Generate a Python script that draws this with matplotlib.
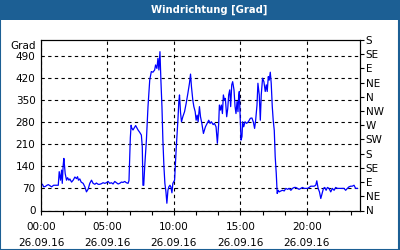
import numpy as np
import matplotlib
matplotlib.use("Agg")
import matplotlib.pyplot as plt
from matplotlib.patches import Rectangle

# Stunden seit 00:00 am 26.09.16 und Windrichtung in Grad
hours = [0.0, 0.12, 0.2, 0.32, 0.45, 0.55, 0.7, 0.8, 0.95, 1.05, 1.2, 1.3,
         1.37, 1.47, 1.55, 1.6, 1.67, 1.72, 1.77, 1.82, 1.92, 2.0, 2.1, 2.17,
         2.3, 2.42, 2.55, 2.67, 2.75, 2.82, 2.92, 3.02, 3.17, 3.3, 3.42, 3.55,
         3.67, 3.8, 3.92, 4.05, 4.17, 4.3, 4.42, 4.55, 4.67, 4.8, 4.92, 5.05,
         5.17, 5.3, 5.42, 5.55, 5.67, 5.8, 5.92, 6.05, 6.17, 6.3, 6.42, 6.55,
         6.62, 6.72, 6.78, 6.82, 6.92, 7.12, 7.3, 7.42, 7.55, 7.62, 7.67, 7.73,
         7.8, 7.93, 8.05, 8.18, 8.3, 8.42, 8.55, 8.62, 8.72, 8.8, 8.87, 8.95,
         9.02, 9.1, 9.17, 9.25, 9.32, 9.4, 9.47, 9.55, 9.62, 9.7, 9.77, 9.85,
         9.92, 10.05, 10.18, 10.3, 10.37, 10.42, 10.5, 10.57, 10.67, 10.8,
         10.92, 11.05, 11.17, 11.25, 11.32, 11.42, 11.5, 11.6, 11.67, 11.75,
         11.82, 11.92, 12.0, 12.1, 12.22, 12.37, 12.5, 12.62, 12.72, 12.82,
         12.95, 13.05, 13.17, 13.27, 13.37, 13.42, 13.5, 13.57, 13.65, 13.72,
         13.8, 13.87, 13.97, 14.05, 14.12, 14.2, 14.27, 14.35, 14.42, 14.52,
         14.6, 14.67, 14.75, 14.82, 14.87, 14.92, 14.97, 15.05, 15.12, 15.17,
         15.25, 15.35, 15.47, 15.6, 15.75, 15.87, 15.97, 16.07, 16.15, 16.25,
         16.32, 16.42, 16.5, 16.57, 16.67, 16.77, 16.87, 16.95, 17.02, 17.1,
         17.17, 17.25, 17.32, 17.4, 17.47, 17.55, 17.62, 17.7, 17.77, 17.85,
         17.92, 18.05, 18.17, 18.3, 18.42, 18.55, 18.67, 18.8, 18.92, 19.05,
         19.17, 19.3, 19.42, 19.55, 19.67, 19.8, 19.92, 20.05, 20.17, 20.3,
         20.42, 20.55, 20.67, 20.75, 20.85, 20.95, 21.05, 21.15, 21.25, 21.35,
         21.45, 21.55, 21.67, 21.8, 21.92, 22.05, 22.17, 22.3, 22.42, 22.55,
         22.67, 22.8, 22.92, 23.05, 23.17, 23.3, 23.42, 23.55, 23.67, 23.8]
grad = [86, 82, 75, 76, 80, 82, 78, 75, 80, 80, 80, 80,
        123, 96, 128, 86, 144, 165, 140, 117, 96, 104, 96, 100,
        90, 96, 106, 101, 107, 96, 100, 90, 86, 75, 59, 68,
        86, 96, 86, 83, 87, 83, 83, 85, 88, 86, 88, 92,
        86, 88, 84, 92, 88, 84, 86, 90, 89, 92, 88, 86,
        95, 230, 270, 262, 255, 269, 255, 248, 239, 202, 80, 80,
        138, 223, 329, 413, 440, 438, 445, 461, 450, 482, 445, 503,
        413, 329, 223, 138, 86, 59, 23, 64, 75, 80, 75, 56,
        86, 96, 202, 286, 345, 366, 309, 281, 297, 313,
        339, 371, 403, 432, 392, 350, 329, 313, 286, 302,
        281, 329, 297, 276, 244, 265, 276, 286, 276, 281,
        272, 276, 265, 213, 276, 334, 318, 334, 307, 366,
        350, 355, 297, 323, 366, 382, 329, 398, 408, 382,
        329, 307, 345, 313, 361, 377, 313, 223, 234, 281,
        265, 281, 276, 281, 292, 293, 281, 260, 286, 334,
        403, 366, 286, 366, 419, 408, 377, 398, 377, 424,
        413, 438, 403, 329, 286, 254, 170, 117, 54, 64,
        59, 62, 64, 62, 70, 67, 70, 64, 70, 73,
        73, 70, 67, 70, 73, 70, 70, 70, 73, 77,
        77, 77, 80, 94, 70, 59, 38, 54, 70, 73,
        64, 73, 70, 59, 70, 64, 73, 70, 70, 70,
        70, 70, 64, 70, 75, 77, 77, 80, 70, 70]

y_ticks = [0, 70, 140, 210, 280, 350, 420, 490]
richtung = ["N", "NE", "E", "SE", "S", "SW", "W", "NW", "N", "NE", "E", "SE", "S"]
x_major = [0, 5, 10, 15, 20]
x_labels = ["00:00\n26.09.16", "05:00\n26.09.16", "10:00\n26.09.16",
            "15:00\n26.09.16", "20:00\n26.09.16"]

blau = "#1c5f94"
plt.rcParams["font.family"] = "DejaVu Sans"

fig = plt.figure(figsize=(4, 2.5), dpi=100)
fig.patch.set_facecolor("white")
# Titelbalken und Rahmen
fig.patches.append(Rectangle((0, 230 / 250), 1, 20 / 250, transform=fig.transFigure,
                             facecolor=blau, edgecolor="none", zorder=0))
fig.patches.append(Rectangle((0.001, 0.002), 0.997, 0.996, transform=fig.transFigure,
                             facecolor="none", edgecolor=blau, lw=1.5, zorder=0))
fig.text(209 / 400, 240 / 250, "Windrichtung [Grad]", color="white", fontsize=7.2,
         fontweight="bold", ha="center", va="center")

ax = fig.add_axes([41 / 400, 39.5 / 250, 319 / 400, 170.5 / 250])
ax.plot(hours, grad, color="#0000ff", lw=0.9)
ax.set_xlim(0, 24)
ax.set_ylim(0, 540)
ax.set_yticks(y_ticks)
ax.tick_params(axis="y", length=0, labelsize=7.5, pad=4)
ax.set_xticks(x_major)
ax.set_xticklabels(x_labels, fontsize=7.5, linespacing=1.75)
ax.set_xticks(np.arange(0, 24, 5 / 3), minor=True)
ax.tick_params(axis="x", which="both", length=3, width=0.8, labelsize=7.5, pad=5)
ax.grid(True, color="black", linestyle=(0, (3, 3)), lw=0.8)
for s in ax.spines.values():
    s.set_linewidth(0.8)
ax.text(-0.015, 0.965, "Grad", transform=ax.transAxes, ha="right", va="center",
        fontsize=7.5)

ax2 = ax.twinx()
ax2.set_ylim(0, 540)
ax2.set_yticks(np.arange(0, 541, 45))
ax2.set_yticklabels(richtung)
ax2.tick_params(axis="y", length=3, width=0.8, labelsize=7.5, pad=1)

fig.savefig("out.png", dpi=100)
